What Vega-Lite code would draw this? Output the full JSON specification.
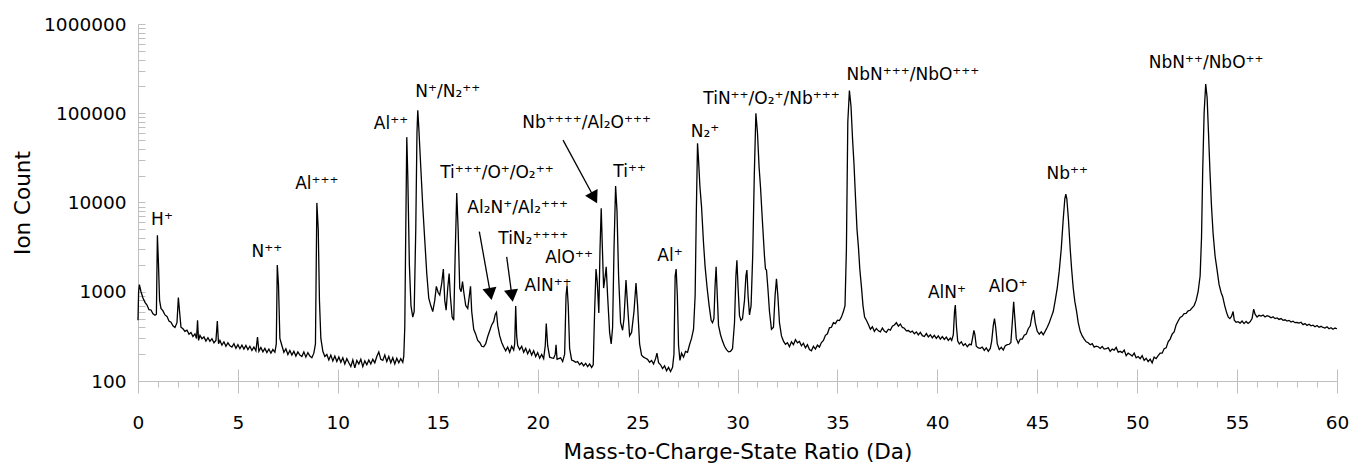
{
"$schema": "https://vega.github.io/schema/vega-lite/v6.json",
"width": 1199, "height": 357,
"autosize": {"type": "none"},
"padding": {"left": 138, "top": 24, "right": 14, "bottom": 83},
"background": "white",
"config": {"view": {"stroke": null}, "font": "DejaVu Sans"},
"datasets": {
"spec": [
{"m":0.00,"c":480},{"m":0.03,"c":1000},{"m":0.07,"c":1200},{"m":0.15,"c":1000},{"m":0.25,"c":850},{"m":0.35,"c":760},{"m":0.45,"c":710},{"m":0.55,"c":630},{"m":0.65,"c":625},{"m":0.75,"c":565},{"m":0.85,"c":545},{"m":0.92,"c":560},{"m":0.97,"c":4300},{"m":1.02,"c":2200},{"m":1.08,"c":800},{"m":1.15,"c":650},{"m":1.25,"c":610},{"m":1.35,"c":550},{"m":1.45,"c":530},{"m":1.55,"c":470},{"m":1.65,"c":455},{"m":1.75,"c":415},{"m":1.85,"c":398},{"m":1.95,"c":450},{"m":2.02,"c":860},{"m":2.08,"c":600},{"m":2.15,"c":400},{"m":2.25,"c":385},{"m":2.35,"c":360},{"m":2.45,"c":372},{"m":2.55,"c":335},{"m":2.65,"c":350},{"m":2.75,"c":315},{"m":2.85,"c":338},{"m":2.93,"c":300},{"m":2.98,"c":480},{"m":3.03,"c":285},{"m":3.1,"c":325},{"m":3.2,"c":298},{"m":3.3,"c":312},{"m":3.4,"c":280},{"m":3.5,"c":305},{"m":3.6,"c":278},{"m":3.7,"c":298},{"m":3.8,"c":268},{"m":3.9,"c":285},{"m":3.97,"c":470},{"m":4.03,"c":262},{"m":4.1,"c":285},{"m":4.2,"c":252},{"m":4.3,"c":275},{"m":4.4,"c":245},{"m":4.5,"c":268},{"m":4.6,"c":248},{"m":4.7,"c":240},{"m":4.8,"c":262},{"m":4.9,"c":232},{"m":5.0,"c":255},{"m":5.1,"c":230},{"m":5.2,"c":252},{"m":5.3,"c":228},{"m":5.4,"c":250},{"m":5.5,"c":225},{"m":5.6,"c":245},{"m":5.7,"c":220},{"m":5.8,"c":240},{"m":5.9,"c":218},{"m":5.98,"c":310},{"m":6.05,"c":215},{"m":6.15,"c":238},{"m":6.25,"c":212},{"m":6.35,"c":232},{"m":6.45,"c":208},{"m":6.55,"c":228},{"m":6.65,"c":205},{"m":6.75,"c":225},{"m":6.85,"c":210},{"m":6.92,"c":260},{"m":6.97,"c":1990},{"m":7.03,"c":1200},{"m":7.1,"c":300},{"m":7.2,"c":250},{"m":7.3,"c":210},{"m":7.4,"c":230},{"m":7.5,"c":198},{"m":7.6,"c":220},{"m":7.7,"c":195},{"m":7.8,"c":215},{"m":7.9,"c":190},{"m":8.0,"c":212},{"m":8.1,"c":195},{"m":8.2,"c":188},{"m":8.3,"c":212},{"m":8.4,"c":185},{"m":8.5,"c":208},{"m":8.6,"c":190},{"m":8.7,"c":182},{"m":8.8,"c":205},{"m":8.88,"c":260},{"m":8.95,"c":9900},{"m":9.02,"c":5000},{"m":9.08,"c":800},{"m":9.15,"c":300},{"m":9.25,"c":215},{"m":9.35,"c":188},{"m":9.45,"c":198},{"m":9.55,"c":172},{"m":9.65,"c":195},{"m":9.75,"c":168},{"m":9.85,"c":190},{"m":9.95,"c":165},{"m":10.05,"c":186},{"m":10.15,"c":162},{"m":10.25,"c":182},{"m":10.35,"c":155},{"m":10.45,"c":178},{"m":10.55,"c":160},{"m":10.65,"c":145},{"m":10.75,"c":172},{"m":10.85,"c":140},{"m":10.95,"c":170},{"m":11.05,"c":155},{"m":11.15,"c":175},{"m":11.25,"c":145},{"m":11.35,"c":168},{"m":11.45,"c":152},{"m":11.55,"c":172},{"m":11.65,"c":155},{"m":11.75,"c":175},{"m":11.85,"c":160},{"m":11.95,"c":188},{"m":12.05,"c":212},{"m":12.15,"c":175},{"m":12.25,"c":170},{"m":12.35,"c":195},{"m":12.45,"c":165},{"m":12.55,"c":188},{"m":12.65,"c":160},{"m":12.75,"c":182},{"m":12.85,"c":155},{"m":12.95,"c":180},{"m":13.05,"c":160},{"m":13.15,"c":178},{"m":13.25,"c":162},{"m":13.3,"c":190},{"m":13.35,"c":400},{"m":13.4,"c":5000},{"m":13.45,"c":54000},{"m":13.5,"c":20000},{"m":13.58,"c":2000},{"m":13.66,"c":700},{"m":13.75,"c":520},{"m":13.82,"c":600},{"m":13.9,"c":5000},{"m":13.96,"c":60000},{"m":14.0,"c":108000},{"m":14.05,"c":70000},{"m":14.15,"c":25000},{"m":14.25,"c":9000},{"m":14.35,"c":3800},{"m":14.45,"c":1600},{"m":14.55,"c":850},{"m":14.65,"c":700},{"m":14.75,"c":600},{"m":14.85,"c":800},{"m":14.93,"c":1150},{"m":15.02,"c":980},{"m":15.1,"c":920},{"m":15.2,"c":1250},{"m":15.28,"c":1800},{"m":15.35,"c":800},{"m":15.42,"c":620},{"m":15.5,"c":1100},{"m":15.57,"c":1600},{"m":15.63,"c":900},{"m":15.72,"c":520},{"m":15.8,"c":480},{"m":15.87,"c":2500},{"m":15.95,"c":12800},{"m":16.02,"c":5000},{"m":16.1,"c":1100},{"m":16.17,"c":1000},{"m":16.24,"c":1300},{"m":16.3,"c":1000},{"m":16.4,"c":700},{"m":16.5,"c":650},{"m":16.58,"c":900},{"m":16.64,"c":1150},{"m":16.7,"c":600},{"m":16.8,"c":380},{"m":16.9,"c":335},{"m":17.0,"c":285},{"m":17.1,"c":270},{"m":17.2,"c":245},{"m":17.3,"c":242},{"m":17.4,"c":262},{"m":17.5,"c":315},{"m":17.6,"c":365},{"m":17.7,"c":425},{"m":17.8,"c":465},{"m":17.88,"c":560},{"m":17.94,"c":590},{"m":18.0,"c":420},{"m":18.1,"c":320},{"m":18.2,"c":270},{"m":18.3,"c":240},{"m":18.4,"c":218},{"m":18.5,"c":240},{"m":18.6,"c":210},{"m":18.7,"c":245},{"m":18.8,"c":222},{"m":18.85,"c":260},{"m":18.9,"c":690},{"m":18.95,"c":320},{"m":19.0,"c":250},{"m":19.1,"c":225},{"m":19.2,"c":245},{"m":19.3,"c":210},{"m":19.4,"c":232},{"m":19.5,"c":202},{"m":19.6,"c":225},{"m":19.7,"c":195},{"m":19.8,"c":218},{"m":19.9,"c":188},{"m":20.0,"c":208},{"m":20.1,"c":180},{"m":20.2,"c":198},{"m":20.3,"c":178},{"m":20.38,"c":250},{"m":20.43,"c":440},{"m":20.5,"c":250},{"m":20.6,"c":185},{"m":20.7,"c":182},{"m":20.8,"c":180},{"m":20.88,"c":200},{"m":20.92,"c":255},{"m":20.97,"c":175},{"m":21.05,"c":178},{"m":21.15,"c":182},{"m":21.25,"c":165},{"m":21.35,"c":200},{"m":21.42,"c":900},{"m":21.47,"c":1180},{"m":21.53,"c":700},{"m":21.6,"c":230},{"m":21.7,"c":172},{"m":21.8,"c":168},{"m":21.9,"c":162},{"m":22.0,"c":165},{"m":22.1,"c":152},{"m":22.2,"c":160},{"m":22.3,"c":148},{"m":22.4,"c":158},{"m":22.5,"c":145},{"m":22.6,"c":155},{"m":22.7,"c":142},{"m":22.78,"c":152},{"m":22.85,"c":600},{"m":22.92,"c":1800},{"m":22.98,"c":1300},{"m":23.06,"c":580},{"m":23.12,"c":3000},{"m":23.18,"c":8600},{"m":23.24,"c":3000},{"m":23.3,"c":1100},{"m":23.38,"c":1500},{"m":23.43,"c":1900},{"m":23.5,"c":900},{"m":23.6,"c":350},{"m":23.68,"c":260},{"m":23.75,"c":400},{"m":23.82,"c":3000},{"m":23.9,"c":15300},{"m":23.97,"c":8000},{"m":24.05,"c":1500},{"m":24.15,"c":450},{"m":24.25,"c":370},{"m":24.32,"c":500},{"m":24.42,"c":1350},{"m":24.5,"c":700},{"m":24.6,"c":320},{"m":24.7,"c":350},{"m":24.82,"c":600},{"m":24.92,"c":1250},{"m":25.0,"c":700},{"m":25.1,"c":260},{"m":25.2,"c":195},{"m":25.3,"c":185},{"m":25.4,"c":180},{"m":25.5,"c":175},{"m":25.6,"c":162},{"m":25.7,"c":170},{"m":25.8,"c":155},{"m":25.9,"c":178},{"m":25.97,"c":205},{"m":26.05,"c":160},{"m":26.15,"c":152},{"m":26.25,"c":138},{"m":26.35,"c":148},{"m":26.45,"c":130},{"m":26.55,"c":142},{"m":26.65,"c":128},{"m":26.75,"c":142},{"m":26.82,"c":200},{"m":26.88,"c":1500},{"m":26.93,"c":1800},{"m":26.99,"c":900},{"m":27.05,"c":250},{"m":27.12,"c":170},{"m":27.2,"c":205},{"m":27.3,"c":185},{"m":27.4,"c":215},{"m":27.5,"c":210},{"m":27.6,"c":255},{"m":27.7,"c":300},{"m":27.8,"c":380},{"m":27.88,"c":900},{"m":27.94,"c":8000},{"m":28.0,"c":46000},{"m":28.05,"c":30000},{"m":28.12,"c":15000},{"m":28.2,"c":9000},{"m":28.3,"c":3500},{"m":28.38,"c":1900},{"m":28.48,"c":1100},{"m":28.58,"c":700},{"m":28.68,"c":480},{"m":28.75,"c":450},{"m":28.82,"c":500},{"m":28.88,"c":1200},{"m":28.93,"c":1900},{"m":28.98,"c":1000},{"m":29.05,"c":420},{"m":29.15,"c":330},{"m":29.25,"c":280},{"m":29.35,"c":245},{"m":29.45,"c":225},{"m":29.55,"c":212},{"m":29.65,"c":215},{"m":29.75,"c":230},{"m":29.85,"c":450},{"m":29.92,"c":1500},{"m":29.97,"c":2250},{"m":30.03,"c":1100},{"m":30.1,"c":540},{"m":30.17,"c":480},{"m":30.25,"c":500},{"m":30.35,"c":800},{"m":30.42,"c":1500},{"m":30.47,"c":1750},{"m":30.53,"c":900},{"m":30.6,"c":550},{"m":30.68,"c":700},{"m":30.76,"c":2500},{"m":30.84,"c":20000},{"m":30.92,"c":100000},{"m":31.0,"c":60000},{"m":31.08,"c":25000},{"m":31.15,"c":15000},{"m":31.25,"c":6000},{"m":31.35,"c":2500},{"m":31.4,"c":1800},{"m":31.45,"c":1750},{"m":31.52,"c":1100},{"m":31.6,"c":600},{"m":31.7,"c":380},{"m":31.8,"c":400},{"m":31.88,"c":900},{"m":31.95,"c":1400},{"m":32.02,"c":900},{"m":32.1,"c":450},{"m":32.2,"c":320},{"m":32.3,"c":280},{"m":32.4,"c":258},{"m":32.5,"c":268},{"m":32.6,"c":242},{"m":32.7,"c":275},{"m":32.8,"c":255},{"m":32.9,"c":290},{"m":33.0,"c":268},{"m":33.1,"c":278},{"m":33.2,"c":248},{"m":33.3,"c":265},{"m":33.4,"c":235},{"m":33.5,"c":255},{"m":33.6,"c":225},{"m":33.7,"c":218},{"m":33.8,"c":245},{"m":33.9,"c":228},{"m":34.0,"c":252},{"m":34.1,"c":240},{"m":34.2,"c":270},{"m":34.3,"c":285},{"m":34.4,"c":325},{"m":34.5,"c":338},{"m":34.6,"c":395},{"m":34.7,"c":400},{"m":34.8,"c":450},{"m":34.9,"c":440},{"m":35.0,"c":480},{"m":35.1,"c":475},{"m":35.2,"c":520},{"m":35.3,"c":600},{"m":35.38,"c":700},{"m":35.45,"c":3000},{"m":35.52,"c":80000},{"m":35.6,"c":180000},{"m":35.68,"c":120000},{"m":35.76,"c":50000},{"m":35.83,"c":27000},{"m":35.9,"c":12000},{"m":35.98,"c":5000},{"m":36.05,"c":3200},{"m":36.12,"c":1800},{"m":36.2,"c":1150},{"m":36.28,"c":700},{"m":36.36,"c":520},{"m":36.45,"c":480},{"m":36.55,"c":430},{"m":36.65,"c":380},{"m":36.75,"c":405},{"m":36.85,"c":360},{"m":36.95,"c":388},{"m":37.05,"c":365},{"m":37.15,"c":355},{"m":37.25,"c":392},{"m":37.35,"c":362},{"m":37.45,"c":350},{"m":37.55,"c":380},{"m":37.65,"c":372},{"m":37.75,"c":410},{"m":37.85,"c":425},{"m":37.95,"c":450},{"m":38.05,"c":412},{"m":38.15,"c":435},{"m":38.25,"c":398},{"m":38.35,"c":390},{"m":38.45,"c":365},{"m":38.55,"c":368},{"m":38.65,"c":352},{"m":38.75,"c":362},{"m":38.85,"c":338},{"m":38.95,"c":355},{"m":39.05,"c":328},{"m":39.15,"c":350},{"m":39.25,"c":322},{"m":39.35,"c":315},{"m":39.45,"c":340},{"m":39.55,"c":312},{"m":39.65,"c":330},{"m":39.75,"c":305},{"m":39.85,"c":325},{"m":39.95,"c":300},{"m":40.05,"c":320},{"m":40.15,"c":295},{"m":40.25,"c":315},{"m":40.35,"c":292},{"m":40.45,"c":310},{"m":40.55,"c":285},{"m":40.65,"c":302},{"m":40.72,"c":285},{"m":40.8,"c":330},{"m":40.86,"c":600},{"m":40.9,"c":710},{"m":40.96,"c":400},{"m":41.02,"c":280},{"m":41.1,"c":260},{"m":41.2,"c":275},{"m":41.3,"c":250},{"m":41.4,"c":262},{"m":41.5,"c":242},{"m":41.6,"c":258},{"m":41.7,"c":255},{"m":41.76,"c":300},{"m":41.83,"c":370},{"m":41.88,"c":330},{"m":41.95,"c":245},{"m":42.05,"c":235},{"m":42.15,"c":232},{"m":42.25,"c":240},{"m":42.35,"c":220},{"m":42.45,"c":235},{"m":42.55,"c":215},{"m":42.65,"c":232},{"m":42.72,"c":280},{"m":42.8,"c":420},{"m":42.86,"c":500},{"m":42.92,"c":400},{"m":43.0,"c":260},{"m":43.1,"c":225},{"m":43.2,"c":238},{"m":43.3,"c":222},{"m":43.4,"c":248},{"m":43.5,"c":255},{"m":43.6,"c":258},{"m":43.68,"c":270},{"m":43.75,"c":450},{"m":43.82,"c":770},{"m":43.88,"c":500},{"m":43.95,"c":300},{"m":44.05,"c":265},{"m":44.15,"c":295},{"m":44.25,"c":295},{"m":44.35,"c":325},{"m":44.45,"c":335},{"m":44.55,"c":385},{"m":44.65,"c":415},{"m":44.75,"c":560},{"m":44.82,"c":620},{"m":44.9,"c":450},{"m":45.0,"c":360},{"m":45.1,"c":335},{"m":45.2,"c":355},{"m":45.3,"c":330},{"m":45.4,"c":362},{"m":45.5,"c":400},{"m":45.6,"c":450},{"m":45.7,"c":520},{"m":45.8,"c":600},{"m":45.9,"c":800},{"m":46.0,"c":1100},{"m":46.1,"c":1700},{"m":46.2,"c":3000},{"m":46.3,"c":6500},{"m":46.38,"c":11000},{"m":46.43,"c":12400},{"m":46.48,"c":11000},{"m":46.56,"c":6500},{"m":46.65,"c":3000},{"m":46.72,"c":1800},{"m":46.8,"c":1100},{"m":46.88,"c":780},{"m":46.97,"c":600},{"m":47.05,"c":450},{"m":47.15,"c":360},{"m":47.25,"c":320},{"m":47.35,"c":295},{"m":47.45,"c":275},{"m":47.55,"c":268},{"m":47.65,"c":255},{"m":47.75,"c":262},{"m":47.85,"c":240},{"m":47.95,"c":246},{"m":48.05,"c":242},{"m":48.15,"c":232},{"m":48.25,"c":244},{"m":48.35,"c":228},{"m":48.45,"c":230},{"m":48.55,"c":236},{"m":48.65,"c":215},{"m":48.75,"c":228},{"m":48.85,"c":222},{"m":48.95,"c":238},{"m":49.05,"c":210},{"m":49.15,"c":215},{"m":49.25,"c":208},{"m":49.35,"c":222},{"m":49.45,"c":192},{"m":49.55,"c":205},{"m":49.65,"c":198},{"m":49.75,"c":190},{"m":49.85,"c":205},{"m":49.95,"c":182},{"m":50.05,"c":188},{"m":50.15,"c":178},{"m":50.25,"c":192},{"m":50.35,"c":170},{"m":50.45,"c":180},{"m":50.55,"c":165},{"m":50.65,"c":176},{"m":50.75,"c":160},{"m":50.85,"c":185},{"m":50.95,"c":178},{"m":51.05,"c":192},{"m":51.15,"c":205},{"m":51.25,"c":205},{"m":51.35,"c":230},{"m":51.45,"c":235},{"m":51.55,"c":275},{"m":51.65,"c":295},{"m":51.75,"c":335},{"m":51.85,"c":355},{"m":51.95,"c":425},{"m":52.05,"c":470},{"m":52.15,"c":515},{"m":52.25,"c":530},{"m":52.35,"c":568},{"m":52.45,"c":572},{"m":52.55,"c":610},{"m":52.65,"c":620},{"m":52.75,"c":660},{"m":52.85,"c":700},{"m":52.95,"c":800},{"m":53.05,"c":1000},{"m":53.15,"c":1500},{"m":53.22,"c":4000},{"m":53.28,"c":23000},{"m":53.35,"c":100000},{"m":53.43,"c":213000},{"m":53.5,"c":150000},{"m":53.57,"c":60000},{"m":53.64,"c":23000},{"m":53.72,"c":9000},{"m":53.8,"c":4500},{"m":53.9,"c":2500},{"m":54.0,"c":1750},{"m":54.1,"c":1200},{"m":54.2,"c":980},{"m":54.28,"c":880},{"m":54.38,"c":700},{"m":54.48,"c":580},{"m":54.56,"c":520},{"m":54.64,"c":500},{"m":54.72,"c":530},{"m":54.8,"c":600},{"m":54.86,"c":480},{"m":54.95,"c":455},{"m":55.05,"c":462},{"m":55.15,"c":445},{"m":55.25,"c":470},{"m":55.35,"c":440},{"m":55.45,"c":465},{"m":55.55,"c":442},{"m":55.65,"c":460},{"m":55.75,"c":500},{"m":55.83,"c":640},{"m":55.9,"c":560},{"m":56.0,"c":520},{"m":56.1,"c":545},{"m":56.2,"c":535},{"m":56.3,"c":548},{"m":56.4,"c":522},{"m":56.5,"c":540},{"m":56.6,"c":530},{"m":56.7,"c":510},{"m":56.8,"c":525},{"m":56.9,"c":500},{"m":57.0,"c":508},{"m":57.1,"c":490},{"m":57.2,"c":500},{"m":57.3,"c":478},{"m":57.4,"c":485},{"m":57.5,"c":470},{"m":57.6,"c":478},{"m":57.7,"c":458},{"m":57.8,"c":468},{"m":57.9,"c":450},{"m":58.0,"c":452},{"m":58.1,"c":445},{"m":58.2,"c":455},{"m":58.3,"c":428},{"m":58.4,"c":440},{"m":58.5,"c":420},{"m":58.6,"c":432},{"m":58.7,"c":415},{"m":58.8,"c":422},{"m":58.9,"c":405},{"m":59.0,"c":418},{"m":59.1,"c":400},{"m":59.2,"c":410},{"m":59.3,"c":398},{"m":59.4,"c":392},{"m":59.5,"c":405},{"m":59.6,"c":385},{"m":59.7,"c":396},{"m":59.8,"c":380},{"m":59.9,"c":392},{"m":60.0,"c":385}
],
"labels": [
{"m":1.2,"c":6300,"t":"H⁺"},
{"m":6.45,"c":2790,"t":"N⁺⁺"},
{"m":8.95,"c":16100,"t":"Al⁺⁺⁺"},
{"m":12.66,"c":75900,"t":"Al⁺⁺"},
{"m":15.5,"c":173000,"t":"N⁺/N₂⁺⁺"},
{"m":17.96,"c":21500,"t":"Ti⁺⁺⁺/O⁺/O₂⁺⁺"},
{"m":19.0,"c":8700,"t":"Al₂N⁺/Al₂⁺⁺⁺"},
{"m":19.78,"c":3900,"t":"TiN₂⁺⁺⁺⁺"},
{"m":21.57,"c":2390,"t":"AlO⁺⁺"},
{"m":20.52,"c":1160,"t":"AlN⁺⁺"},
{"m":22.45,"c":77600,"t":"Nb⁺⁺⁺⁺/Al₂O⁺⁺⁺"},
{"m":24.6,"c":21900,"t":"Ti⁺⁺"},
{"m":26.62,"c":2510,"t":"Al⁺"},
{"m":28.37,"c":62000,"t":"N₂⁺"},
{"m":31.7,"c":145000,"t":"TiN⁺⁺/O₂⁺/Nb⁺⁺⁺"},
{"m":38.78,"c":270000,"t":"NbN⁺⁺⁺/NbO⁺⁺⁺"},
{"m":40.48,"c":968,"t":"AlN⁺"},
{"m":43.54,"c":1130,"t":"AlO⁺"},
{"m":46.5,"c":20900,"t":"Nb⁺⁺"},
{"m":53.45,"c":366000,"t":"NbN⁺⁺/NbO⁺⁺"}
],
"arrows": [
{"id":1,"m":21.27,"c":50000,"m2":22.83,"c2":11300},
{"id":2,"m":17.08,"c":4710,"m2":17.64,"c2":942},
{"id":3,"m":18.45,"c":2460,"m2":18.71,"c2":902}
]
},
"resolve": {"axis": {"x": "independent"}},
"layer": [
{
"data": {"name": "spec"},
"mark": {"type": "line", "color": "#000000", "strokeWidth": 1.3},
"encoding": {
"x": {"field": "m", "type": "quantitative",
 "scale": {"domain": [0, 60], "nice": false, "zero": false},
 "axis": {"title": "Mass-to-Charge-State Ratio (Da)", "orient": "bottom",
  "values": [0,1,2,3,4,5,6,7,8,9,10,11,12,13,14,15,16,17,18,19,20,21,22,23,24,25,26,27,28,29,30,31,32,33,34,35,36,37,38,39,40,41,42,43,44,45,46,47,48,49,50,51,52,53,54,55,56,57,58,59,60],
  "labelExpr": "datum.value % 5 === 0 ? datum.label : ''",
  "tickSize": {"condition": {"test": "datum.value % 5 === 0", "value": 12}, "value": 6},
  "tickColor": "#bfbfbf", "domainColor": "#bfbfbf", "grid": false,
  "labelFontSize": 18.5, "labelColor": "#000000", "labelPadding": 20, "labelFlush": false, "labelOverlap": false,
  "titleFontSize": 21.5, "titleFontWeight": "normal", "titleColor": "#000000",
  "titleY": 71, "titleBaseline": "middle"}},
"y": {"field": "c", "type": "quantitative",
 "scale": {"type": "log", "domain": [100, 1000000], "nice": false},
 "axis": {"title": "Ion Count",
  "values": [100,200,300,400,500,600,700,800,900,1000,2000,3000,4000,5000,6000,7000,8000,9000,10000,20000,30000,40000,50000,60000,70000,80000,90000,100000,200000,300000,400000,500000,600000,700000,800000,900000,1000000],
  "labelExpr": "indexof([100,1000,10000,100000,1000000], datum.value) >= 0 ? format(datum.value, 'd') : ''",
  "tickSize": -7, "tickColor": "#bfbfbf", "domainColor": "#bfbfbf", "grid": false,
  "labelFontSize": 18.5, "labelColor": "#000000", "labelPadding": 19, "labelOverlap": false,
  "titleFontSize": 21.5, "titleFontWeight": "normal", "titleColor": "#000000",
  "titleX": -115, "titleBaseline": "middle"}}
}
},
{
"data": {"name": "labels"},
"mark": {"type": "text", "fontSize": 17, "color": "#000000", "align": "center", "baseline": "middle"},
"encoding": {
"x": {"field": "m", "type": "quantitative",
 "axis": {"orient": "bottom", "values": [0,5,10,15,20,25,30,35,40,45,50,55,60], "tickSize": -12, "tickColor": "#bfbfbf",
  "labels": false, "domain": false, "grid": false, "title": null}},
"y": {"field": "c", "type": "quantitative"},
"text": {"field": "t"}
}
},
{
"data": {"name": "arrows"},
"mark": {"type": "rule", "color": "#000000", "strokeWidth": 1.3},
"encoding": {
"x": {"field": "m", "type": "quantitative", "axis": null},
"y": {"field": "c", "type": "quantitative"},
"x2": {"field": "m2"},
"y2": {"field": "c2"}
}
},
{
"data": {"name": "arrows"},
"transform": [{"filter": "datum.id === 1"}],
"mark": {"type": "point", "shape": "triangle-down", "filled": true, "color": "#000000", "opacity": 1, "size": 200, "angle": 332},
"encoding": {
"x": {"field": "m2", "type": "quantitative", "axis": null},
"y": {"field": "c2", "type": "quantitative"}
}
},
{
"data": {"name": "arrows"},
"transform": [{"filter": "datum.id === 2"}],
"mark": {"type": "point", "shape": "triangle-down", "filled": true, "color": "#000000", "opacity": 1, "size": 200, "angle": 350},
"encoding": {
"x": {"field": "m2", "type": "quantitative", "axis": null},
"y": {"field": "c2", "type": "quantitative"}
}
},
{
"data": {"name": "arrows"},
"transform": [{"filter": "datum.id === 3"}],
"mark": {"type": "point", "shape": "triangle-down", "filled": true, "color": "#000000", "opacity": 1, "size": 200, "angle": 352},
"encoding": {
"x": {"field": "m2", "type": "quantitative", "axis": null},
"y": {"field": "c2", "type": "quantitative"}
}
}
]
}
